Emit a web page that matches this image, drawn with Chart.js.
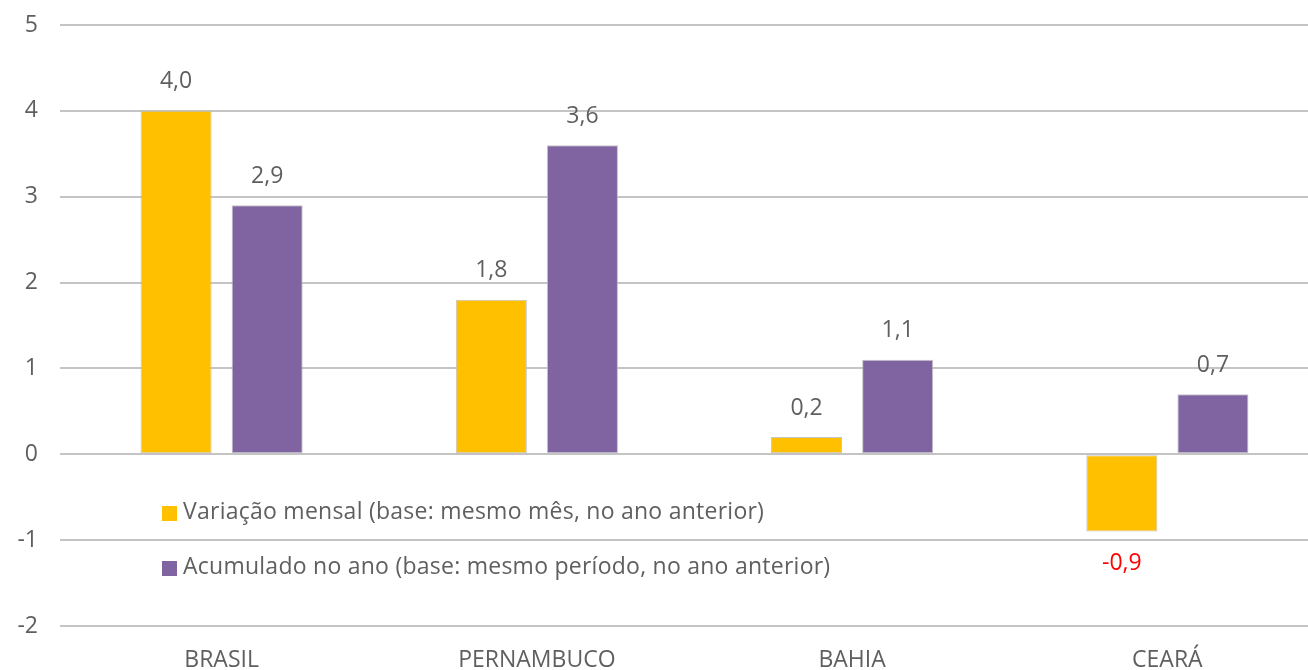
<!DOCTYPE html>
<html>
<head>
<meta charset="utf-8">
<script src="https://cdn.jsdelivr.net/npm/chart.js@4.4.1/dist/chart.umd.min.js"></script>
<style>
  html, body { margin: 0; padding: 0; background: #fff; overflow: hidden; }
  #wrap { width: 1308px; height: 670px; overflow: hidden; position: relative; }
  #box { width: 1325px; height: 670px; position: absolute; left: 0; top: 0; }
</style>
</head>
<body>
<div id="wrap"><div id="box"><canvas id="c"></canvas></div></div>
<script>
const categories = ["BRASIL", "PERNAMBUCO", "BAHIA", "CEARÁ"];
const mensal = [4.0, 1.8, 0.2, -0.9];
const acumulado = [2.9, 3.6, 1.1, 0.7];
const seriesNames = [
  "Variação mensal (base: mesmo mês, no ano anterior)",
  "Acumulado no ano (base: mesmo período, no ano anterior)"
];
const yTicks = [-2, -1, 0, 1, 2, 3, 4, 5];

const FONT = "'Open Sans', 'DejaVu Sans', sans-serif";
const GRAY = "#5f5f5f";

const valueLabels = {
  id: "valueLabels",
  afterDatasetsDraw(chart) {
    const ctx = chart.ctx;
    ctx.save();
    ctx.font = "23px " + FONT;
    ctx.textAlign = "center";
    ctx.textBaseline = "middle";
    chart.data.datasets.forEach((ds, di) => {
      const meta = chart.getDatasetMeta(di);
      meta.data.forEach((bar, i) => {
        const v = ds.data[i];
        const txt = v.toFixed(1).replace(".", ",");
        if (v < 0) {
          ctx.fillStyle = "#ff0000";
          ctx.fillText(txt, bar.x, bar.y + 32);
        } else {
          ctx.fillStyle = GRAY;
          ctx.fillText(txt, bar.x, bar.y - 29);
        }
      });
    });
    ctx.restore();
  }
};

const innerLegend = {
  id: "innerLegend",
  afterDatasetsDraw(chart) {
    const ctx = chart.ctx;
    ctx.save();
    ctx.font = "23px " + FONT;
    ctx.letterSpacing = "0.25px";
    ctx.textAlign = "left";
    ctx.textBaseline = "middle";
    const rows = [512, 567];
    chart.data.datasets.forEach((ds, di) => {
      const y = rows[di];
      ctx.fillStyle = ds.backgroundColor;
      ctx.fillRect(162, y - 6, 15, 15);
      ctx.fillStyle = GRAY;
      ctx.fillText(ds.label, 183, y);
    });
    ctx.restore();
  }
};

new Chart(document.getElementById("c"), {
  type: "bar",
  data: {
    labels: categories,
    datasets: [
      { label: seriesNames[0], data: mensal, backgroundColor: "#FFC000", borderColor: "rgba(190,190,190,0.9)", borderWidth: 1, borderSkipped: false },
      { label: seriesNames[1], data: acumulado, backgroundColor: "#8064A2", borderColor: "rgba(190,190,190,0.9)", borderWidth: 1, borderSkipped: false }
    ]
  },
  options: {
    responsive: true,
    maintainAspectRatio: false,
    animation: false,
    layout: { padding: { top: 25, right: 0, bottom: 0, left: 0 } },
    categoryPercentage: 0.578,
    barPercentage: 0.78,
    plugins: { legend: { display: false }, tooltip: { enabled: false }, title: { display: false } },
    scales: {
      x: {
        grid: { display: false, drawTicks: false },
        border: { display: false },
        ticks: { color: GRAY, font: { family: FONT, size: 23 }, padding: 21 },
        afterFit(s) { s.height = 44; s.paddingLeft = 0; s.paddingRight = 0; }
      },
      y: {
        min: -2, max: 5,
        afterBuildTicks(s) { s.ticks = yTicks.map(v => ({ value: v })); },
        grid: { color: "#c4c4c4", lineWidth: 2, drawTicks: true, tickLength: 4 },
        border: { display: false },
        ticks: { color: GRAY, font: { family: FONT, size: 23 }, padding: 22 },
        afterFit(s) { s.width = 64; s.paddingTop = 0; s.paddingBottom = 0; }
      }
    }
  },
  plugins: [valueLabels, innerLegend]
});
</script>
</body>
</html>
